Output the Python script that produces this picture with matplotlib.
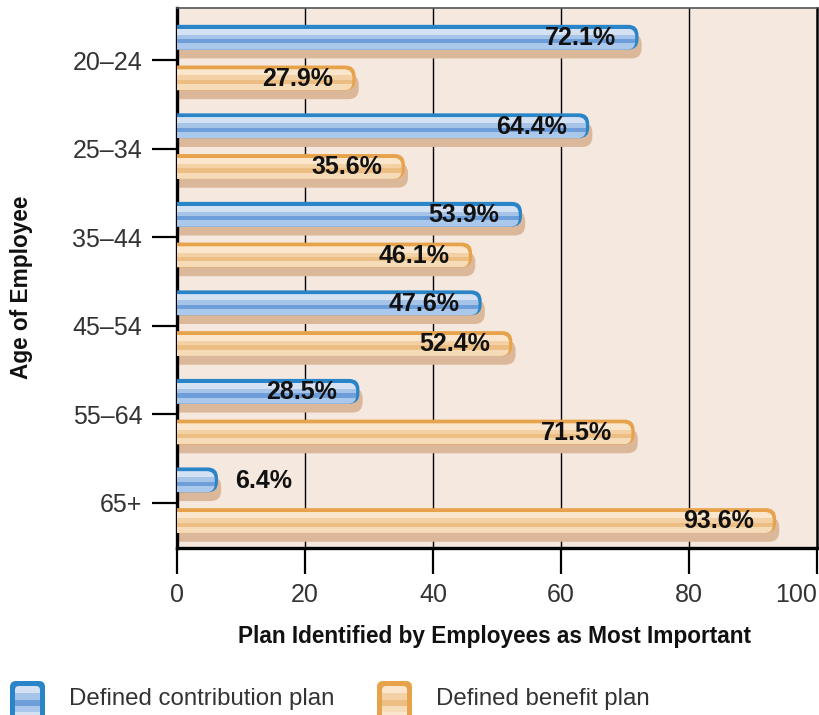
import numpy as np
import matplotlib.pyplot as plt
from matplotlib.patches import FancyBboxPatch, Rectangle

plt.rcParams['font.family'] = ['Liberation Sans', 'DejaVu Sans']

ages = ["20–24", "25–34", "35–44", "45–54", "55–64", "65+"]
contribution = [72.1, 64.4, 53.9, 47.6, 28.5, 6.4]
benefit = [27.9, 35.6, 46.1, 52.4, 71.5, 93.6]
xticks = [0, 20, 40, 60, 80, 100]

BG = "#f5e8df"
SHADOW = "#dcb89b"
BLUE = {"edge": "#2a85c8", "stripes": ["#d3e1f3", "#a6c3e8", "#6d9ed9", "#aac7ec"]}
ORANGE = {"edge": "#e7a34b", "stripes": ["#fae6cc", "#f3d1a5", "#edbe84", "#f6dbb8"]}
STRIPE_CUTS = [0.15, 0.40, 0.58, 0.75, 1.0]  # fraction of bar height from the top

W, H = 820, 715
fig = plt.figure(figsize=(W / 100, H / 100), dpi=100)
ax = fig.add_axes([177 / W, 1 - 548 / H, 640 / W, 540 / H])
ax.set_facecolor(BG)
ax.set_xlim(0, 100)
ax.set_ylim(5.51, -0.59)

# x units per y unit for rounding the bar ends
aspect = (640 / 100) / (540 / 6.1)
bar_h = 0.28
radius = 1.6


def fancy_bar(y_center, value, style):
    top = y_center - bar_h / 2
    shadow = FancyBboxPatch((-3, top + 0.1), value + 3 + 0.5, bar_h,
                            boxstyle=f"round,pad=0,rounding_size={radius}",
                            mutation_aspect=aspect, fc=SHADOW, ec="none", zorder=2)
    ax.add_patch(shadow)
    main = FancyBboxPatch((-3, top), value + 3, bar_h,
                          boxstyle=f"round,pad=0,rounding_size={radius}",
                          mutation_aspect=aspect, fc=style["edge"], ec="none", zorder=3)
    ax.add_patch(main)
    inner = FancyBboxPatch((-3, top + bar_h * STRIPE_CUTS[0]), value + 3 - 0.5,
                           bar_h * (1 - STRIPE_CUTS[0]),
                           boxstyle=f"round,pad=0,rounding_size={radius * 0.8}",
                           mutation_aspect=aspect, fc="none", ec="none")
    inner.set_transform(ax.transData)
    for k, col in enumerate(style["stripes"]):
        y0 = top + bar_h * STRIPE_CUTS[k]
        y1 = top + bar_h * STRIPE_CUTS[k + 1]
        r = Rectangle((0, y0), value, y1 - y0, fc=col, ec="none", zorder=4)
        r.set_clip_path(inner)
        ax.add_patch(r)


def bar_label(y_center, value):
    if value > 15:
        ax.text(value - 3.5, y_center + 0.01, f"{value:.1f}%", ha="right", va="center",
                fontsize=18, fontweight="bold", color="#111111", zorder=6)
    else:
        ax.text(value + 2.7, y_center + 0.01, f"{value:.1f}%", ha="left", va="center",
                fontsize=18, fontweight="bold", color="#111111", zorder=6)


pos = np.arange(len(ages))
for i in pos:
    fancy_bar(i - 0.26, contribution[i], BLUE)
    fancy_bar(i + 0.20, benefit[i], ORANGE)
    bar_label(i - 0.26, contribution[i])
    bar_label(i + 0.20, benefit[i])

for x in xticks[1:-1]:
    ax.axvline(x, color="black", lw=1.0, zorder=1)

ax.set_yticks(pos)
ax.set_yticklabels(ages)
ax.set_xticks(xticks)
ax.tick_params(axis="y", length=18, width=1.6, pad=7, labelsize=18, labelcolor="#333333")
ax.tick_params(axis="x", length=19, width=1.6, pad=6, labelsize=18, labelcolor="#333333")
ax.get_xticklabels()[-1].set_horizontalalignment("right")
for side in ["left", "bottom"]:
    ax.spines[side].set_linewidth(2.4)
ax.spines["right"].set_linewidth(1.8)
ax.spines["top"].set_linewidth(1.2)
ax.spines["top"].set_color("#555555")

fig.text(495 / W, 1 - 637 / H, "Plan Identified by Employees as Most Important",
         ha="center", va="center", fontsize=16.3, fontweight="bold", color="#111111")
fig.text(22 / W, 1 - 287 / H, "Age of Employee", ha="center", va="center",
         rotation=90, fontsize=16.3, fontweight="bold", color="#111111")

# legend drawn in pixel coordinates
lg = fig.add_axes([0, 0, 1, 1], zorder=-1)
lg.set_xlim(0, W)
lg.set_ylim(H, 0)
lg.axis("off")
legend_items = [("Defined contribution plan", BLUE, 10, 69), ("Defined benefit plan", ORANGE, 377, 436)]
for label, style, x_icon, x_text in legend_items:
    box = FancyBboxPatch((x_icon, 681), 35, 40, boxstyle="round,pad=0,rounding_size=6",
                         fc=style["edge"], ec="none")
    lg.add_patch(box)
    inner = FancyBboxPatch((x_icon + 5, 686), 25, 35, boxstyle="round,pad=0,rounding_size=4",
                           fc="none", ec="none")
    inner.set_transform(lg.transData)
    cuts = [686, 693, 700, 706, 712, 721]
    for k, col in enumerate(style["stripes"] + [style["stripes"][0]]):
        r = Rectangle((x_icon + 5, cuts[k]), 25, cuts[k + 1] - cuts[k], fc=col, ec="none")
        r.set_clip_path(inner)
        lg.add_patch(r)
    lg.text(x_text, 699, label, ha="left", va="center", fontsize=17.3, color="#333333")

fig.savefig("out.png", dpi=100)
